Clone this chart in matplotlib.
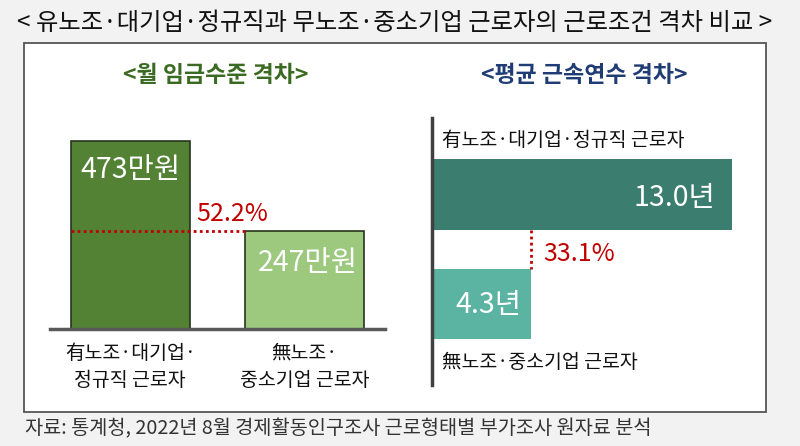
import matplotlib.pyplot as plt
from matplotlib.patches import Rectangle

plt.rcParams['font.family'] = ['Noto Sans CJK KR', 'DejaVu Sans']

W, H = 800, 446

# 데이터
wage_labels = ['有노조·대기업·\n정규직 근로자', '無노조·\n중소기업 근로자']
wage_values = [473, 247]
wage_texts = ['473만원', '247만원']
wage_gap = '52.2%'

tenure_labels = ['有노조·대기업·정규직 근로자', '無노조·중소기업 근로자']
tenure_values = [13.0, 4.3]
tenure_texts = ['13.0년', '4.3년']
tenure_gap = '33.1%'

title = '< 유노조·대기업·정규직과 무노조·중소기업 근로자의 근로조건 격차 비교 >'
source = '자료: 통계청, 2022년 8월 경제활동인구조사 근로형태별 부가조사 원자료 분석'


def ax_rect(x0, y0, x1, y1):
    # 픽셀 좌표(위에서부터) -> figure 비율
    return [x0 / W, 1 - y1 / H, (x1 - x0) / W, (y1 - y0) / H]


fig = plt.figure(figsize=(W / 100, H / 100), dpi=100, facecolor='#f2f2f2')

# 흰 박스
fig.patches.append(Rectangle((24 / W, 1 - 412 / H), (766 - 24) / W, (412 - 43) / H,
                             transform=fig.transFigure, facecolor='white',
                             edgecolor='#555555', linewidth=1.3, zorder=-5))

fig.text(395 / W, 1 - 23 / H, title, ha='center', va='center', fontsize=17.5, color='#111111')
fig.text(25 / W, 1 - 429 / H, source, ha='left', va='center', fontsize=14.2, color='#333333')

# 왼쪽: 월 임금
ax1 = fig.add_axes(ax_rect(50, 100, 385, 329))
bw = 0.683
ax1.bar([0, 1], wage_values, width=bw, color=['#548235', '#9dc97f'],
        edgecolor='#26331c', linewidth=1.2, zorder=2)
ax1.set_xlim(-0.46, 1.46)
ax1.set_ylim(0, 576)
for s in ['top', 'right', 'left']:
    ax1.spines[s].set_visible(False)
ax1.spines['bottom'].set_color('#595959')
ax1.spines['bottom'].set_linewidth(2.5)
ax1.spines['bottom'].set_zorder(3)
ax1.set_yticks([])
ax1.set_xticks([0, 1])
ax1.set_xticklabels(wage_labels, fontsize=14, color='#111111', linespacing=1.4)
ax1.tick_params(axis='x', length=0, pad=10)
ax1.set_facecolor('none')
ax1.text(0, wage_values[0] - 72, wage_texts[0], ha='center', va='center',
         fontsize=20.5, color='white', zorder=4)
ax1.text(1.02, wage_values[1] - 80, wage_texts[1], ha='center', va='center',
         fontsize=20.5, color='white', zorder=4)
ax1.plot([-bw / 2, 1 - bw / 2], [wage_values[1], wage_values[1]], ls=(0, (1, 1.2)),
         color='#c00000', lw=2, zorder=3)
ax1.text(0.38, wage_values[1] + 43, wage_gap, ha='left', va='center',
         fontsize=18, color='#c00000')
fig.text(216 / W, 1 - 75 / H, '<월 임금수준 격차>', ha='center', va='center',
         fontsize=16.5, color='#3b6b22', fontweight='bold')

# 오른쪽: 평균 근속연수
ax2 = fig.add_axes(ax_rect(432, 118, 760, 385))
bh = 0.645
ax2.barh([0, 1], tenure_values, height=bh, color=['#3b7d6e', '#5bb4a2'], zorder=2)
ax2.set_ylim(1.74, -0.70)
ax2.set_xlim(0, 14.2)
for s in ['top', 'right', 'bottom']:
    ax2.spines[s].set_visible(False)
ax2.spines['left'].set_color('#404040')
ax2.spines['left'].set_linewidth(2.5)
ax2.set_xticks([])
ax2.set_yticks([])
ax2.set_facecolor('none')
ax2.text(0.45, 0 - bh / 2 - 0.17, tenure_labels[0], ha='left', va='center',
         fontsize=14, color='#111111')
ax2.text(0.45, 1 + bh / 2 + 0.21, tenure_labels[1], ha='left', va='center',
         fontsize=14, color='#111111')
ax2.text(tenure_values[0] - 0.72, 0.03, tenure_texts[0], ha='right', va='center',
         fontsize=20.5, color='white', zorder=4)
ax2.text(tenure_values[1] - 0.45, 1.01, tenure_texts[1], ha='right', va='center',
         fontsize=20.5, color='white', zorder=4)
ax2.plot([tenure_values[1], tenure_values[1]], [bh / 2, 1 - bh / 2], ls=(0, (1, 1.2)),
         color='#c00000', lw=2, zorder=3)
ax2.text(tenure_values[1] + 0.5, 0.54, tenure_gap, ha='left', va='center',
         fontsize=18, color='#c00000')
fig.text(584 / W, 1 - 75 / H, '<평균 근속연수 격차>', ha='center', va='center',
         fontsize=16.5, color='#1f3c74', fontweight='bold')

fig.savefig('out.png', dpi=100, facecolor=fig.get_facecolor())
